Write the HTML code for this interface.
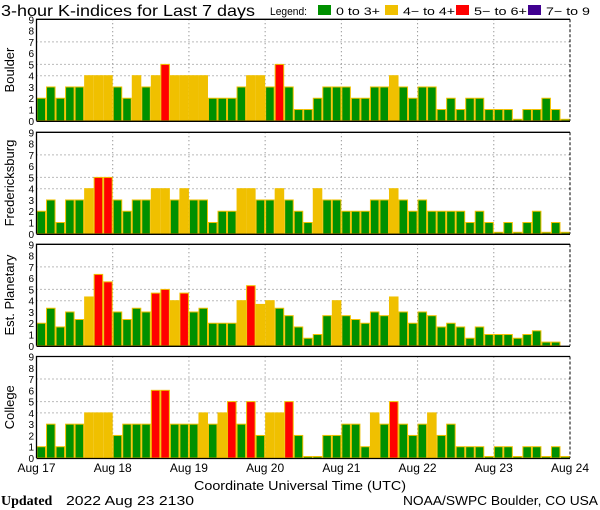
<!DOCTYPE html>
<html><head><meta charset="utf-8"><style>
body{margin:0;background:#fff;}
svg{display:block;font-family:"Liberation Sans",sans-serif;}
</style></head><body>
<svg id="chart" width="600" height="510" viewBox="0 0 600 510" xmlns="http://www.w3.org/2000/svg">
<text x="1" y="16" font-size="16" textLength="254" lengthAdjust="spacingAndGlyphs">3-hour K-indices for Last 7 days</text>
<g font-size="11">
<text x="270" y="15" textLength="37" lengthAdjust="spacingAndGlyphs">Legend:</text>
<rect x="318" y="5" width="13" height="10" fill="#009000"/>
<text x="336" y="15" textLength="44" lengthAdjust="spacingAndGlyphs">0 to 3+</text>
<rect x="385" y="5" width="13" height="10" fill="#f0c000"/>
<text x="403" y="15" textLength="52" lengthAdjust="spacingAndGlyphs">4− to 4+</text>
<rect x="456" y="5" width="13" height="10" fill="#ff0000"/>
<text x="474" y="15" textLength="53" lengthAdjust="spacingAndGlyphs">5− to 6+</text>
<rect x="528" y="5" width="13" height="10" fill="#400090"/>
<text x="546" y="15" textLength="44" lengthAdjust="spacingAndGlyphs">7− to 9</text>
</g>
<g id="panels"></g>
<g id="xlabels" font-size="12"></g>
<text x="300" y="490" font-size="13" text-anchor="middle" textLength="212" lengthAdjust="spacingAndGlyphs">Coordinate Universal Time (UTC)</text>
<text x="1" y="505" font-size="14" font-family="Liberation Serif, serif" font-weight="bold">Updated</text>
<text x="66" y="505" font-size="13" textLength="128" lengthAdjust="spacingAndGlyphs">2022 Aug 23 2130</text>
<text x="598" y="505" font-size="13" text-anchor="end" textLength="195" lengthAdjust="spacingAndGlyphs">NOAA/SWPC Boulder, CO USA</text>
</svg>
<script>
const stations = ["Boulder","Fredericksburg","Est. Planetary","College"];
const boulder = [2,3,2,3,3,4,4,4, 3,2,4,3,4,5,4,4, 4,4,2,2,2,3,4,4, 3,5,3,1,1,2,3,3, 3,2,2,3,3,4,3,2, 3,3,1,2,1,2,2,1, 1,1,0,1,1,2,1,0];
const fredericksburg = [2,3,1,3,3,4,5,5, 3,2,3,3,4,4,3,4, 3,3,1,2,2,4,4,3, 3,4,3,2,1,4,3,3, 2,2,2,3,3,4,3,2, 3,2,2,2,2,1,2,1, 0,1,0,1,2,0,1,0];
const planetary = [2,3.33,1.67,3,2.33,4.33,6.33,5.67, 3,2.33,3.33,3,4.67,5,4,4.67, 3,3.33,2,2,2,4,5.33,3.67, 4,3.33,2.67,1.67,0.67,1,2.67,4, 2.67,2.33,2,3,2.67,4.33,3,2, 3,2.67,1.67,2,1.67,0.67,1.67,1, 1,1,0.67,1,1.33,0.33,0.33,null];
const college = [1,3,1,3,3,4,4,4, 2,3,3,3,6,6,3,3, 3,4,3,4,5,3,5,2, 4,4,5,2,0,0,2,2, 3,3,1,4,3,5,3,2, 3,4,2,3,1,1,1,0, 1,1,0,1,1,0,1,0];
const series = [boulder, fredericksburg, planetary, college];
const dayLabels = ["Aug 17","Aug 18","Aug 19","Aug 20","Aug 21","Aug 22","Aug 23","Aug 24"];
const yTicks = [0,1,2,3,4,5,6,7,8,9];

const NS="http://www.w3.org/2000/svg";
const X0=36.5, X1=570, PH=101.5, PTOP=[19.3,132.3,244.3,356.5];
const NB=56, BW=(X1-X0)/NB;
function xScale(i){return X0+i*BW;}
function yScale(p,v){return PTOP[p]+PH-v*PH/9;}
function colorFor(v){return v>=6.67?"#400090":v>=4.67?"#ff0000":v>=3.67?"#f0c000":"#009000";}
function mk(tag,attrs,parent){const e=document.createElementNS(NS,tag);for(const k in attrs)e.setAttribute(k,attrs[k]);parent.appendChild(e);return e;}
const panels=document.getElementById("panels");
stations.forEach((name,p)=>{
  const g=mk("g",{},panels);
  
  
  const top=PTOP[p], bot=top+PH;
  // gridlines
  [4,5,7].forEach(v=>{
    const l=mk("line",{x1:X0,x2:X1,y1:yScale(p,v),y2:yScale(p,v),stroke:"#777","stroke-dasharray":"1,3"},g);
    
    
  });
  for(let d=1;d<7;d++){
    const x=xScale(d*8);
    const l=mk("line",{x1:x,x2:x,y1:top,y2:bot,stroke:"#777","stroke-dasharray":"1,3"},g);
    
    
  }
  // bars
  series[p].forEach((v,i)=>{
    if(v===null)return;
    const y=v>0?yScale(p,v):bot-1.5;
    const r=mk("rect",{x:xScale(i)+0.5,y:y,width:BW-1,height:bot-y,fill:colorFor(v),stroke:"#f0c000","stroke-width":1},g);
    
    
  });
  // frame
  const f1=mk("path",{d:`M${X0},${bot} L${X0},${top} L${X1},${top}`,fill:"none",stroke:"#000","stroke-width":1.3},g);
  
  
  const f2=mk("line",{x1:X1,x2:X1,y1:top,y2:bot,stroke:"#000","stroke-dasharray":"3,2"},g);
  
  
  const f3=mk("line",{x1:X0,x2:X1,y1:bot+0.5,y2:bot+0.5,stroke:"#000","stroke-width":1.3},g);
  
  
  // y ticks
  yTicks.forEach(v=>{
    const t=mk("text",{x:34,y:yScale(p,v)+4,"font-size":10,"text-anchor":"end"},g);
    t.textContent=v;
    
    
  });
  const yt=mk("text",{x:0,y:0,"font-size":13,"text-anchor":"middle",transform:`translate(14,${top+PH/2}) rotate(-90)`},g);
  yt.textContent=name;
  
  
});
const xl=document.getElementById("xlabels");
dayLabels.forEach((d,i)=>{
  const t=mk("text",{x:xScale(i*8),y:472,"text-anchor":"middle","font-size":12},xl);
  t.textContent=d;
  
  
});
</script>
</body></html>
